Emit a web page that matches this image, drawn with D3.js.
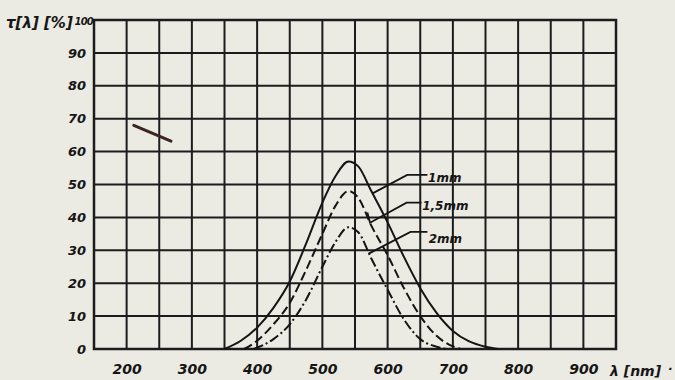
<!DOCTYPE html>
<html>
<head>
<meta charset="utf-8">
<script src="https://cdn.jsdelivr.net/npm/d3@7"></script>
<style>
  html, body { margin: 0; padding: 0; background: #ebeae3; }
  svg { display: block; }
  text { font-family: "DejaVu Sans", sans-serif; font-weight: bold; font-style: italic; fill: #161616; }
</style>
</head>
<body>
<svg id="chart"></svg>
<script>
// wavelength [nm] and transmission [%]
const wl1 = [350, 375, 400, 425, 450, 475, 500, 520, 540, 555, 575, 600, 625, 650, 675, 700, 725, 750, 770];
const t1  = [0, 2.5, 6.5, 12.5, 20.5, 32, 44.5, 52.5, 57, 55.5, 48, 38.5, 28, 18.5, 11, 5.5, 2.3, 0.7, 0];

const wl15 = [380, 400, 425, 450, 475, 500, 520, 540, 555, 575, 600, 625, 650, 675, 700, 712];
const t15  = [0, 2.5, 7.5, 14, 24, 35, 43.5, 48, 46, 37.5, 28.5, 18.5, 10, 4, 0.8, 0];

const wl2 = [395, 425, 450, 475, 500, 520, 540, 555, 575, 600, 625, 650, 675, 690];
const t2  = [0, 3, 7.5, 15, 25, 32.5, 37, 35.5, 27.5, 18, 9, 3, 0.7, 0];

const xTicks = [200, 300, 400, 500, 600, 700, 800, 900];
const yTicks = [0, 10, 20, 30, 40, 50, 60, 70, 80, 90];
const seriesNames = ["1mm", "1,5mm", "2mm"];

const W = 675, H = 380;
const plotL = 94, plotR = 616, plotT = 20, plotB = 349;

const svg = d3.select("#chart").attr("width", W).attr("height", H);

const x = d3.scaleLinear().domain([150, 950]).range([plotL, plotR]);
const y = d3.scaleLinear().domain([0, 100]).range([plotB, plotT]);

// grid
const grid = svg.append("g").attr("stroke", "#1c1c1c").attr("stroke-width", 2);
grid.selectAll("line.v").data(d3.range(150, 951, 50)).enter().append("line")
  .attr("x1", d => x(d)).attr("x2", d => x(d))
  .attr("y1", y(0)).attr("y2", y(100));
grid.selectAll("line.h").data(d3.range(0, 101, 10)).enter().append("line")
  .attr("x1", x(150)).attr("x2", x(950))
  .attr("y1", d => y(d)).attr("y2", d => y(d));
grid.append("rect")
  .attr("x", x(150)).attr("y", y(100))
  .attr("width", x(950) - x(150)).attr("height", y(0) - y(100))
  .attr("fill", "none").attr("stroke-width", 2.5);

// x labels
svg.append("g").attr("transform", "translate(0," + plotB + ")")
  .call(d3.axisBottom(x).tickValues(xTicks).tickSize(0).tickPadding(15).tickFormat(d3.format("d")))
  .call(g => g.select(".domain").remove())
  .selectAll("text")
  .attr("font-size", 14)
  .attr("fill", "#161616")
  .style("font-family", "DejaVu Sans")
  .style("font-weight", "bold")
  .style("font-style", "italic");

// y labels
svg.append("g").attr("transform", "translate(" + (plotL - 8) + ",0)")
  .call(d3.axisLeft(y).tickValues(yTicks).tickSize(0).tickPadding(0))
  .call(g => g.select(".domain").remove())
  .selectAll("text")
  .attr("font-size", 13)
  .attr("fill", "#161616")
  .style("font-family", "DejaVu Sans")
  .style("font-weight", "bold")
  .style("font-style", "italic");

svg.append("text").attr("x", plotL - 1).attr("y", y(100) + 5)
  .attr("text-anchor", "end").attr("font-size", 10).attr("letter-spacing", -0.8).text("100");

svg.append("text").attr("x", 6).attr("y", 28).attr("font-size", 15).text("τ[λ] [%]");
svg.append("text").attr("x", 610).attr("y", 376).attr("font-size", 14).text("λ [nm]");
svg.append("text").attr("x", 668).attr("y", 373).attr("font-size", 12).text("·");

// curves
const line = d3.line().x(d => x(d[0])).y(d => y(d[1])).curve(d3.curveMonotoneX);
const curves = [
  { pts: d3.zip(wl1, t1), dash: null },
  { pts: d3.zip(wl15, t15), dash: "9,4" },
  { pts: d3.zip(wl2, t2), dash: "10,3,2,3" }
];
svg.append("g").selectAll("path").data(curves).enter().append("path")
  .attr("d", d => line(d.pts))
  .attr("fill", "none")
  .attr("stroke", "#141414")
  .attr("stroke-width", 2)
  .attr("stroke-dasharray", d => d.dash);

// leader lines and labels (data units)
const leaders = [
  [[577, 47.3], [630, 52.9], [661, 52.9]],
  [[569, 41.5], [573, 38.4], [629, 44.5], [652, 44.5]],
  [[571, 29], [635, 35.6], [661, 35.6]]
];
const labelPos = [[662, 50.8], [653, 42.4], [663, 32.2]];
const leader = d3.line().x(d => x(d[0])).y(d => y(d[1]));
svg.append("g").selectAll("path").data(leaders).enter().append("path")
  .attr("d", leader).attr("fill", "none").attr("stroke", "#141414").attr("stroke-width", 1.8);
svg.append("g").selectAll("text").data(seriesNames).enter().append("text")
  .attr("x", (d, i) => x(labelPos[i][0]))
  .attr("y", (d, i) => y(labelPos[i][1]))
  .attr("font-size", 12)
  .attr("font-style", "normal")
  .text(d => d);

// pen mark on the scan
svg.append("path")
  .attr("d", leader([[211, 68], [268, 63.2]]))
  .attr("stroke", "#3a2424").attr("stroke-width", 3).attr("stroke-linecap", "round");
</script>
</body>
</html>
